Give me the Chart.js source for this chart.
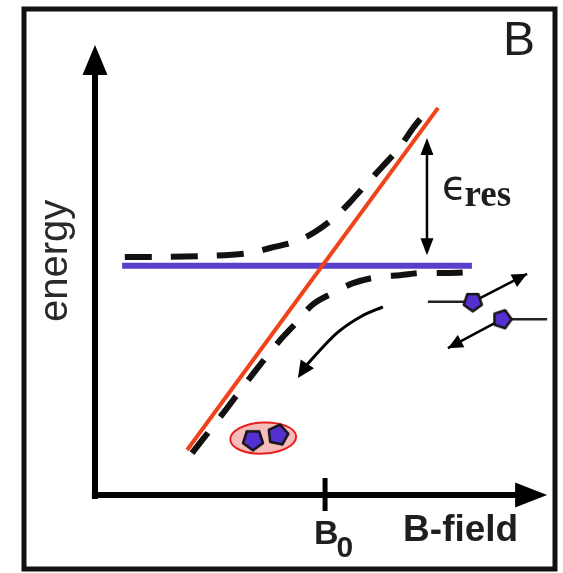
<!DOCTYPE html>
<html><head><meta charset="utf-8">
<script src="https://cdn.jsdelivr.net/npm/chart.js@4/dist/chart.umd.min.js"></script>
<style>html,body{margin:0;padding:0;background:#fff;overflow:hidden}canvas{display:block}</style>
</head><body>
<canvas id="c" width="563" height="573"></canvas>
<script>
// ---------- data (arbitrary units: B-field on x, energy on y) ----------
const axisTitleX = 'B-field';
const axisTitleY = 'energy';
const panelLabel = 'B';
const tickLabel = ['B', '0'];
const gapLabel = ['\u03F5', 'res'];
const B0 = 51.7;

const axisB = [-0.7, 101.6];
const axisE = [-0.9, 101.1];

const closedB = [6.1, 84.7];
const closedE = [51.5, 51.5];
const openB = [20.7, 77.1];
const openE = [10.1, 87.0];

const upperB = [6.7, 13.5, 24.5, 34.8, 39.3, 45.4, 49.4, 54.4, 57.3, 61.8, 64.5, 68.5, 71.5, 75.5];
const upperE = [53.5, 53.5, 53.7, 54.4, 55.5, 57.1, 59.1, 62.9, 65.8, 70.8, 73.7, 78.2, 82.5, 87.4];
const lowerB = [21.8, 28.5, 34.8, 41.6, 45.4, 48.8, 53.5, 58.0, 63.6, 68.5, 73.7, 79.1, 84.7];
const lowerE = [9.4, 18.0, 26.3, 34.8, 38.9, 42.7, 45.4, 47.6, 49.0, 49.4, 49.9, 49.9, 50.1];

const gapB = 74.6;
const gapE = [53.9, 80.2];

const sweepB = [64.7, 59.6, 54.6, 50.6, 47.4];
const sweepE = [42.3, 40.0, 36.6, 32.6, 29.0];
const sweepTip = [45.6, 26.3];

const moleculeB = [35.5, 41.1];
const moleculeE = [12.4, 13.5];
const cloudCenter = [37.8, 12.8];
const cloudRadius = [7.4, 3.5];

const freeB = [84.9, 91.5];
const freeE = [43.4, 39.5];
const freeTailB = [74.8, 101.6];
const freeArrowB = [97.1, 79.3];
const freeArrowE = [49.7, 33.0];

// ---------- helpers ----------
const pts = (xs, ys) => xs.map((x, i) => ({ x, y: ys[i] }));

function pentagon(rot, r) {
  const s = 30, c = document.createElement('canvas');
  c.width = c.height = s;
  const g = c.getContext('2d');
  g.translate(s / 2, s / 2);
  g.rotate(rot);
  g.beginPath();
  for (let i = 0; i < 5; i++) {
    const a = -Math.PI / 2 + i * 2 * Math.PI / 5;
    const px = r * Math.cos(a), py = r * Math.sin(a);
    i ? g.lineTo(px, py) : g.moveTo(px, py);
  }
  g.closePath();
  g.fillStyle = '#5530d0';
  g.fill();
  g.lineWidth = 2.5;
  g.lineJoin = 'round';
  g.strokeStyle = '#151515';
  g.stroke();
  return c;
}

function head(ctx, fx, fy, tx, ty, len, half, color) {
  const a = Math.atan2(ty - fy, tx - fx);
  ctx.save();
  ctx.fillStyle = color;
  ctx.beginPath();
  ctx.moveTo(tx, ty);
  ctx.lineTo(tx - len * Math.cos(a) + half * Math.sin(a), ty - len * Math.sin(a) - half * Math.cos(a));
  ctx.lineTo(tx - len * Math.cos(a) - half * Math.sin(a), ty - len * Math.sin(a) + half * Math.cos(a));
  ctx.closePath();
  ctx.fill();
  ctx.restore();
}

const decor = {
  id: 'decor',
  beforeDraw(chart) {
    const ctx = chart.ctx;
    ctx.save();
    ctx.fillStyle = '#fff';
    ctx.fillRect(0, 0, chart.width, chart.height);
    ctx.restore();
  },
  beforeDatasetsDraw(chart) {
    const { ctx, scales: { x, y } } = chart;
    // axes
    ctx.save();
    ctx.strokeStyle = '#000';
    ctx.lineCap = 'butt';
    ctx.lineWidth = 6;
    const ox = x.getPixelForValue(0), oy = y.getPixelForValue(0);
    const yTop = y.getPixelForValue(axisE[1]), xEnd = x.getPixelForValue(axisB[1]);
    ctx.beginPath();
    ctx.moveTo(ox, y.getPixelForValue(axisE[0]));
    ctx.lineTo(ox, yTop + 28);
    ctx.moveTo(x.getPixelForValue(axisB[0]), oy);
    ctx.lineTo(xEnd - 30, oy);
    ctx.stroke();
    head(ctx, ox, yTop + 30, ox, yTop, 30, 12.5, '#000');
    head(ctx, xEnd - 32, oy, xEnd, oy, 32, 12.5, '#000');
    // tick at B0
    const tx = x.getPixelForValue(B0);
    ctx.lineWidth = 5;
    ctx.beginPath();
    ctx.moveTo(tx, oy - 17);
    ctx.lineTo(tx, oy + 16);
    ctx.stroke();
    // molecule cloud
    const cx = x.getPixelForValue(cloudCenter[0]), cy = y.getPixelForValue(cloudCenter[1]);
    const rx = x.getPixelForValue(cloudCenter[0] + cloudRadius[0]) - cx;
    const ry = cy - y.getPixelForValue(cloudCenter[1] + cloudRadius[1]);
    ctx.beginPath();
    ctx.ellipse(cx, cy, rx, ry, -0.05, 0, Math.PI * 2);
    ctx.fillStyle = 'rgba(242,160,160,0.7)';
    ctx.fill();
    ctx.lineWidth = 2;
    ctx.strokeStyle = '#e8201c';
    ctx.stroke();
    ctx.restore();
  },
  afterDatasetsDraw(chart) {
    const { ctx, scales: { x, y } } = chart;
    const gx = x.getPixelForValue(gapB);
    const g0 = y.getPixelForValue(gapE[0]), g1 = y.getPixelForValue(gapE[1]);
    head(ctx, gx, g0 - 16, gx, g0, 17, 6.5, '#000');
    head(ctx, gx, g1 + 16, gx, g1, 17, 6.5, '#000');
    const n = sweepB.length - 1;
    head(ctx, x.getPixelForValue(sweepB[n]), y.getPixelForValue(sweepE[n]),
      x.getPixelForValue(sweepTip[0]), y.getPixelForValue(sweepTip[1]), 17, 8, '#000');
    for (let i = 0; i < 2; i++) {
      head(ctx, x.getPixelForValue(freeB[i]), y.getPixelForValue(freeE[i]),
        x.getPixelForValue(freeArrowB[i]), y.getPixelForValue(freeArrowE[i]), 15, 7, '#000');
    }
  },
  afterDraw(chart) {
    const { ctx, scales: { x, y }, chartArea } = chart;
    ctx.save();
    ctx.fillStyle = '#1e1e1e';
    ctx.textBaseline = 'alphabetic';
    const ox = x.getPixelForValue(0), oy = y.getPixelForValue(0);
    ctx.font = '48px "Liberation Sans"';
    ctx.textAlign = 'right';
    ctx.fillText(panelLabel, chartArea.right - 5, chartArea.top + 5);
    ctx.textAlign = 'left';
    ctx.font = 'bold 37px "Liberation Sans"';
    ctx.fillText(axisTitleX, x.getPixelForValue(axisB[1]) - 144, oy + 46);
    const tx = x.getPixelForValue(B0);
    ctx.font = 'bold 34px "Liberation Sans"';
    ctx.fillText(tickLabel[0], tx - 11, oy + 49);
    const bw = ctx.measureText(tickLabel[0]).width;
    ctx.font = 'bold 30px "Liberation Sans"';
    ctx.fillText(tickLabel[1], tx - 11 + bw - 2, oy + 62);
    ctx.save();
    ctx.translate(ox - 28, y.getPixelForValue(52.6));
    ctx.rotate(-Math.PI / 2);
    ctx.textAlign = 'center';
    ctx.fillStyle = '#2a2a2a';
    ctx.font = '40px "Liberation Sans"';
    ctx.fillText(axisTitleY, 0, 0);
    ctx.restore();
    const gx = x.getPixelForValue(gapB);
    const gm = (y.getPixelForValue(gapE[0]) + y.getPixelForValue(gapE[1])) / 2;
    ctx.font = '40px "DejaVu Sans"';
    ctx.fillText(gapLabel[0], gx + 15, gm + 2);
    const ew = ctx.measureText(gapLabel[0]).width;
    ctx.font = 'bold 37px "Liberation Serif"';
    ctx.fillText(gapLabel[1], gx + 15 + ew - 2, gm + 9);
    ctx.lineWidth = 5;
    ctx.strokeStyle = '#111';
    ctx.strokeRect(24, 9, 531, 560);
    ctx.restore();
  }
};

const line = (data, color, width, order, extra) => Object.assign({
  data, borderColor: color, borderWidth: width, showLine: true, pointRadius: 0,
  fill: false, order, clip: false
}, extra || {});

new Chart(document.getElementById('c'), {
  type: 'scatter',
  data: {
    datasets: [
      line(pts(closedB, closedE), '#5a3fcc', 6, 6),
      line(pts(upperB, upperE), '#111', 6, 5, { borderDash: [27, 19], cubicInterpolationMode: 'monotone' }),
      line(pts(lowerB, lowerE), '#111', 6, 5, { borderDash: [26, 20], cubicInterpolationMode: 'monotone' }),
      line(pts(openB, openE), '#f0431a', 4, 4),
      line(pts([gapB, gapB], [gapE[0] + 3, gapE[1] - 3]), '#000', 2.5, 3),
      line(pts(sweepB, sweepE), '#000', 3, 3, { cubicInterpolationMode: 'monotone' }),
      line(pts([freeTailB[0], freeB[0]], [freeE[0], freeE[0]]), '#222', 2.5, 3),
      line(pts([freeB[1], freeTailB[1]], [freeE[1], freeE[1]]), '#222', 2.5, 3),
      line(pts([freeB[0], freeArrowB[0]], [freeE[0], freeArrowE[0]]), '#000', 2.5, 3),
      line(pts([freeB[1], freeArrowB[1]], [freeE[1], freeArrowE[1]]), '#000', 2.5, 3),
      { data: pts(moleculeB, moleculeE), pointStyle: [pentagon(Math.PI / 5, 10.5), pentagon(0.2, 10.5)], pointRadius: 11, order: 1, clip: false, showLine: false },
      { data: pts(freeB, freeE), pointStyle: [pentagon(Math.PI, 9.5), pentagon(Math.PI / 2, 9.5)], pointRadius: 10, order: 1, clip: false, showLine: false }
    ]
  },
  options: {
    responsive: false,
    animation: false,
    devicePixelRatio: 1,
    events: [],
    layout: { padding: { left: 95, right: 23, top: 50, bottom: 78 } },
    scales: {
      x: { type: 'linear', min: 0, max: 100, display: false },
      y: { type: 'linear', min: 0, max: 100, display: false }
    },
    plugins: { legend: { display: false }, tooltip: { enabled: false } }
  },
  plugins: [decor]
});
</script>
</body></html>
